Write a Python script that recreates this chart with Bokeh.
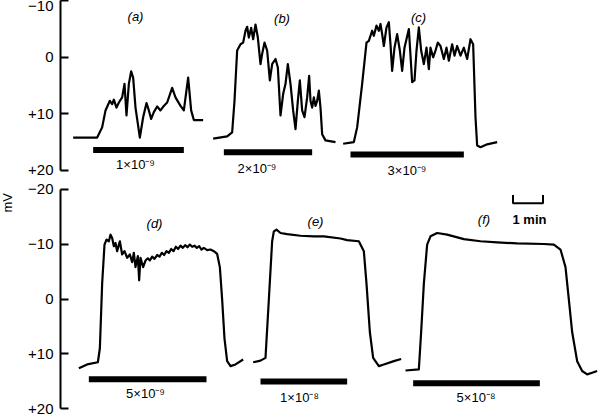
from bokeh.plotting import figure
from bokeh.layouts import column, row
from bokeh.models import Range1d, FixedTicker, CustomJSTickFormatter, Label
from bokeh.embed import file_html
from bokeh.resources import INLINE

# ---- data (time in s on a common axis, potential change in mV) ----
TICKS = [-20, -10, 0, 10, 20]

a_t = [25.3, 73.3, 83.3, 90, 98.7, 103.3, 106.7, 112, 116.7, 123.3, 128, 132, 136.7, 141.3, 145.3, 150,
       158.7, 165.3, 172, 176.7, 181.3, 186.7, 193.3, 200, 206.7, 213.3, 223.3, 230, 240, 246.7, 255.3,
       261.3, 266.7, 285.3]
a_mv = [14.2, 14.2, 12.4, 9.4, 7.7, 8.3, 7.5, 8.9, 8.0, 7.1, 4.7, 10.3, 4.7, 2.5, 3.6, 8.9, 14.2, 10.6,
        8.1, 9.4, 10.9, 9.7, 8.7, 9.4, 8.6, 8.0, 5.4, 7.1, 8.6, 9.4, 3.6, 9.4, 11.1, 11.1]

b_t = [305.3, 333.3, 343.3, 348, 353.3, 360, 365.3, 370, 373.3, 376.7, 381.3, 385.3, 390, 394.7, 400,
       403.3, 408, 413.3, 418.7, 423.3, 430, 434.7, 440, 445.3, 450, 454.7, 460, 465.3, 470, 474.7,
       478.7, 483.3, 488, 493.3, 497.3, 500, 503.3, 506.7, 510, 513.3, 516.7, 520, 523.3, 530, 550]
b_mv = [14.4, 14.0, 13.3, 7.7, -1.2, -2.3, -2.6, -4.7, -5.4, -3.5, -5.2, -3.2, -5.8, -3.5, 1.2, -0.6,
        -2.6, -1.2, 4.1, 1.2, 0.3, 1.8, 10.3, 6.5, 4.7, 1.2, 4.7, 9.4, 12.7, 7.7, 4.1, 9.4, 10.6, 7.1,
        3.3, 7.7, 8.9, 7.1, 8.6, 7.7, 5.9, 8.9, 13.6, 14.7, 15.0]

c_t = [565.3, 586.7, 593.3, 603.3, 612, 616.7, 623.3, 626.7, 632, 636.7, 640, 643.3, 646.7, 652, 656.7,
       660, 663.3, 668, 673.3, 678.7, 683.3, 688, 696.7, 703.3, 708, 712, 716.7, 721.3, 726.7, 732,
       736.7, 740, 745.3, 750, 754.7, 760, 766.7, 772, 776.7, 783.3, 788, 793.3, 800, 806.7, 813.3, 820,
       825.3, 830, 833.3, 840, 853.3, 873.3]
c_mv = [15.3, 15.0, 12.4, 4.7, -2.6, -2.9, -4.7, -3.8, -5.6, -4.7, -5.9, -4.1, -2.0, -5.3, -6.2, -2.3,
        2.4, -1.7, -4.1, -1.2, 2.4, -1.7, -5.0, 4.4, 4.1, -1.2, -5.3, -1.2, 1.2, -1.7, 2.1, -1.7, 0.0,
        -1.2, -2.6, -2.0, 0.3, -1.7, 0.6, -2.3, -0.3, -2.0, -0.3, -1.7, 0.3, -3.2, -2.3, 10.6, 15.6, 15.9,
        15.4, 15.0]

d_t = [36.7, 53.3, 74.7, 78.7, 83.3, 88, 92, 96.7, 100, 103.3, 106.7, 110, 113.3, 118.7, 123.3, 128,
       133.3, 138.7, 143.3, 146.7, 150, 154.7, 157.3, 160, 165.3, 170, 174.7, 178.7, 183.3, 188, 193.3,
       198, 202.7, 207.3, 212, 216.7, 221.3, 226, 230.7, 235.3, 240, 244.7, 249.3, 254, 258.7, 263.3,
       268, 272.7, 277.3, 282, 286.7, 293.3, 300, 306.7, 313.3, 318.7, 323.3, 328, 333.3, 340, 350, 365.3]
d_mv = [12.6, 11.9, 11.5, 9.0, -2.8, -9.9, -10.8, -10.5, -11.7, -11.1, -9.6, -10.2, -8.7, -10.5, -8.1,
        -8.7, -7.5, -8.1, -6.7, -8.4, -5.8, -7.8, -3.4, -7.5, -5.8, -7.0, -7.4, -7.0, -7.7, -7.3, -8.0,
        -7.7, -8.4, -8.0, -8.7, -8.4, -9.1, -8.7, -9.5, -9.1, -9.7, -9.3, -9.8, -9.4, -9.9, -9.5, -9.7,
        -9.3, -9.6, -9.0, -9.3, -8.9, -9.0, -8.7, -8.2, -5.8, 0.1, 7.2, 11.3, 12.2, 11.9, 11.0]

e_t = [385.3, 400, 410, 416.7, 423.3, 426.7, 432, 440, 453.3, 480, 506.7, 526.7, 560, 573.3, 596.7,
       606.7, 612, 618.7, 625.3, 636.7, 646.7, 666.7, 681.3]
e_mv = [11.5, 11.2, 10.7, 0.1, -10.5, -12.3, -12.6, -12.0, -11.8, -11.5, -11.4, -11.4, -11.0, -10.7,
        -10.5, -8.7, -2.8, 6.0, 10.7, 12.2, 11.9, 11.3, 10.9]

f_t = [690, 716.7, 721.3, 726.7, 733.3, 740, 753.3, 773.3, 806.7, 840, 873.3, 913.3, 966.7, 986.7, 1000,
       1010, 1016.7, 1023.3, 1033.3, 1043.3, 1053.3, 1063.3, 1073.3]
f_mv = [13.0, 12.8, 6.0, -2.8, -9.9, -11.4, -12.0, -11.7, -10.9, -10.5, -10.3, -10.1, -10.0, -9.9, -9.0,
        -5.8, 0.1, 6.0, 11.3, 13.1, 13.7, 13.4, 13.1]

# drug application bars (start s, end s, drawn level mV) and concentrations (M)
top_bar_start = [65.3, 326.7, 580]
top_bar_end = [246.7, 503.3, 806.7]
top_bar_mv = [16.4, 16.8, 17.2]
top_conc = ["1\u00d710\u207b\u2079", "2\u00d710\u207b\u2079", "3\u00d710\u207b\u2079"]
top_names = ["(a)", "(b)", "(c)"]

bot_bar_start = [56.7, 400, 705.3]
bot_bar_end = [292, 573.3, 958.7]
bot_bar_mv = [14.6, 15.0, 15.3]
bot_conc = ["5\u00d710\u207b\u2079", "1\u00d710\u207b\u2078", "5\u00d710\u207b\u2078"]
bot_names = ["(d)", "(e)", "(f)"]

scale_t = [905, 905, 965, 965]   # 1 min time bar
scale_mv = [-18.9, -17.4, -17.4, -18.9]

FONT = "Liberation Sans"
FMT = CustomJSTickFormatter(code="""
if (tick > 0) { return '+' + tick; }
if (tick < 0) { return '\\u2212' + Math.abs(tick); }
return '0';
""")

W = 589  # panel width (a 14 px label strip sits on the left)


def panel(height, y_start, y_end, bounds):
    p = figure(width=W, height=height, x_range=Range1d(0, 1086), y_range=Range1d(y_start, y_end),
               x_axis_location=None, toolbar_location=None, output_backend="svg",
               min_border_left=46, min_border_right=0, min_border_top=0, min_border_bottom=0)
    p.grid.visible = False
    p.outline_line_color = None
    p.background_fill_color = "white"
    p.border_fill_color = "white"
    ax = p.yaxis[0]
    ax.ticker = FixedTicker(ticks=TICKS)
    ax.formatter = FMT
    ax.bounds = bounds
    ax.axis_line_width = 2
    ax.axis_line_color = "black"
    ax.major_tick_line_width = 2
    ax.major_tick_line_color = "black"
    ax.major_tick_in = 8
    ax.major_tick_out = 0
    ax.minor_tick_line_color = None
    ax.major_label_text_font = FONT
    ax.major_label_text_font_size = "15px"
    ax.major_label_text_color = "black"
    ax.major_label_standoff = 7
    return p


def lbl(p, x, y, text, size="13px", style="normal"):
    p.add_layout(Label(x=x, y=y, text=text, text_align="center", text_baseline="middle",
                       text_font=FONT, text_font_size=size, text_font_style=style, text_color="black"))


top = panel(180, 21.8, -10.05, (-10.05, 20))
bot = panel(238, 21.73, -21.55, (-20, 20))

for p, t, v in [(top, a_t, a_mv), (top, b_t, b_mv), (top, c_t, c_mv),
                (bot, d_t, d_mv), (bot, e_t, e_mv), (bot, f_t, f_mv)]:
    p.line(t, v, line_color="black", line_width=2.2, line_join="round")

top.segment(x0=top_bar_start, y0=top_bar_mv, x1=top_bar_end, y1=top_bar_mv,
            line_color="black", line_width=6, line_cap="butt")
bot.segment(x0=bot_bar_start, y0=bot_bar_mv, x1=bot_bar_end, y1=bot_bar_mv,
            line_color="black", line_width=6, line_cap="butt")
bot.line(scale_t, scale_mv, line_color="black", line_width=2)

# labels
for x, y, s in zip([150, 393, 693], [19.0, 19.6, 20.0], top_conc):
    lbl(top, x, y, s)
for x, y, s in zip([150, 443, 716], [-7.3, -6.8, -7.0], top_names):
    lbl(top, x, y, s, style="italic")
for x, y, s in zip([170, 478, 831], [17.2, 17.9, 18.0], bot_conc):
    lbl(bot, x, y, s)
for x, y, s in zip([188, 510, 847], [-13.7, -14.1, -14.4], bot_names):
    lbl(bot, x, y, s, style="italic")
lbl(bot, 938, -14.4, "1 min", style="bold")

# narrow strip holding the shared unit label, on the lower panel's mV scale
strip = figure(width=14, height=418, x_range=Range1d(0, 14), y_range=Range1d(21.73, -54.27),
               x_axis_location=None, y_axis_location=None, toolbar_location=None,
               output_backend="svg", min_border=0)
strip.grid.visible = False
strip.outline_line_color = None
strip.add_layout(Label(x=7, y=-17.5, text="mV", angle=1.5708, text_align="center",
                       text_baseline="middle", text_font=FONT, text_font_size="13px",
                       text_color="black"))

layout = row(strip, column(top, bot, spacing=0), spacing=0)
open("out.html", "w").write(file_html(layout, INLINE))
